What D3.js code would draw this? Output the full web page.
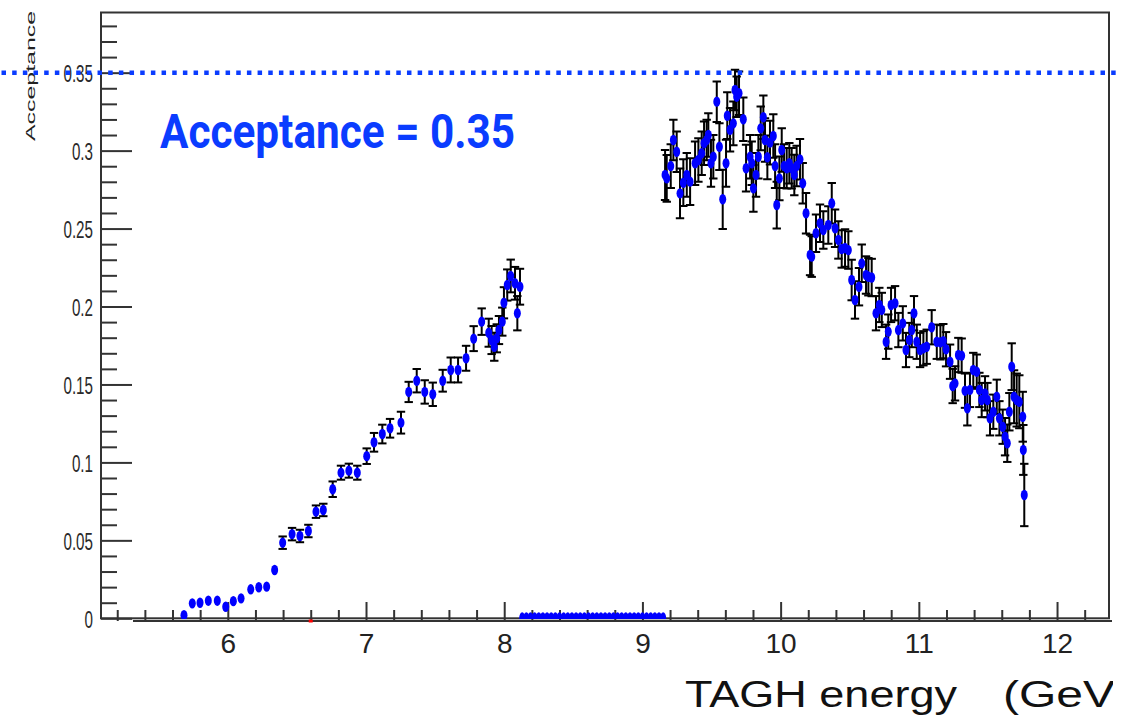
<!DOCTYPE html>
<html><head><meta charset="utf-8">
<script src="https://cdn.jsdelivr.net/npm/d3@7"></script>
<style>html,body{margin:0;padding:0;background:#fff;overflow:hidden}svg{display:block}</style>
</head><body>
<svg id="c" width="1134" height="717"></svg>
<script>
// ---------- data ----------
const xLow = [5.683,5.743,5.799,5.859,5.924,5.985,6.04,6.096,6.166,6.224,6.281,6.339,6.397,6.465,6.522,6.583,6.638,6.691,6.759,6.819,6.876,6.937,7.005,7.058,7.118,7.174,7.253,7.309,7.367,7.425,7.483,7.555,7.613,7.666,7.724,7.779,7.837,7.888,7.909,7.928,7.946,7.962,7.986,7.998,8.022,8.047,8.078,8.095,8.114];
const accLow = [0.002,0.0096,0.010,0.0113,0.0113,0.0074,0.011,0.0128,0.0186,0.0199,0.0203,0.031,0.0485,0.054,0.0528,0.056,0.0684,0.0695,0.0828,0.0934,0.0947,0.0934,0.104,0.1129,0.1182,0.1219,0.1255,0.1452,0.1524,0.1452,0.1437,0.1524,0.1593,0.1593,0.1668,0.1794,0.1903,0.1832,0.1785,0.1742,0.1796,0.1849,0.1903,0.2024,0.2138,0.2196,0.2149,0.1957,0.2127];
const errLow = [0.001,0.0015,0.0015,0.0015,0.0015,0.0015,0.0015,0.0015,0.002,0.002,0.002,0.0025,0.004,0.004,0.004,0.004,0.004,0.004,0.005,0.0045,0.0045,0.0045,0.005,0.006,0.006,0.006,0.007,0.0065,0.0075,0.0075,0.0075,0.007,0.008,0.008,0.008,0.008,0.0085,0.009,0.009,0.009,0.009,0.009,0.009,0.01,0.01,0.0105,0.0105,0.011,0.0115];

const xHigh = [9.164,9.176,9.205,9.224,9.248,9.272,9.296,9.321,9.345,9.381,9.405,9.429,9.446,9.465,9.477,9.496,9.513,9.538,9.557,9.581,9.605,9.614,9.634,9.658,9.670,9.682,9.699,9.730,9.750,9.779,9.791,9.803,9.822,9.839,9.856,9.875,9.887,9.904,9.923,9.947,9.960,9.972,9.991,10.008,10.025,10.044,10.063,10.080,10.099,10.116,10.140,10.160,10.184,10.213,10.225,10.256,10.285,10.309,10.345,10.370,10.394,10.418,
  10.442,10.466,10.490,10.514,10.538,10.567,10.587,10.618,10.635,10.659,10.690,10.714,10.732,10.763,10.779,10.799,10.828,10.852,10.884,10.907,10.931,10.949,10.965,10.985,11.009,11.033,11.057,11.093,11.130,11.156,11.177,11.197,11.226,11.245,11.262,11.286,11.310,11.334,11.351,11.370,11.394,11.419,11.438,11.455,11.479,11.496,11.515,11.539,11.564,11.583,11.607,11.624,11.640,11.655,11.672,11.689,11.708,11.727,11.752,11.756,11.763];
const accHigh = [0.2844,0.2822,0.2901,0.3068,0.2993,0.2726,0.2794,0.2844,0.2801,0.2919,0.2940,0.2983,0.3047,0.3068,0.3100,0.2919,0.2961,0.3314,0.3025,0.2688,0.2919,0.3224,0.3134,0.3175,0.3389,0.3346,0.3368,0.3201,0.2887,0.2961,0.2919,0.2758,0.2844,0.2961,0.3143,0.3214,0.3068,0.2957,0.3051,0.3094,0.2901,0.2651,0.2822,0.3004,0.2901,0.2887,0.2919,0.2887,0.2844,0.2901,0.2944,0.2790,0.2598,0.2331,0.2320,0.2470,0.2534,0.2491,0.2523,0.2662,0.2502,0.2427,
  0.2369,0.2375,0.2362,0.2170,0.2042,0.2127,0.2277,0.2202,0.2191,0.2186,0.1957,0.2010,0.1978,0.1774,0.1839,0.2010,0.2021,0.1849,0.1892,0.1721,0.1785,0.1849,0.1957,0.1774,0.1721,0.1732,0.1742,0.1867,0.1774,0.1770,0.1778,0.1726,0.1646,0.1490,0.1507,0.1689,0.1685,0.1460,0.1347,0.1465,0.1593,0.1582,0.1465,0.1400,0.1443,0.1400,0.1283,0.1325,0.1421,0.1283,0.1229,0.1165,0.1123,0.1325,0.1614,0.1421,0.1400,0.1389,0.1293,0.1080,0.0791];
const errHigh = [0.016,0.015,0.014,0.013,0.013,0.016,0.015,0.014,0.015,0.014,0.014,0.014,0.014,0.013,0.014,0.015,0.014,0.013,0.015,0.019,0.015,0.015,0.014,0.014,0.013,0.013,0.014,0.014,0.015,0.014,0.014,0.015,0.014,0.014,0.014,0.014,0.014,0.014,0.014,0.014,0.014,0.015,0.014,0.014,0.014,0.013,0.013,0.013,0.013,0.013,0.013,0.013,0.013,0.013,0.013,0.012,0.012,0.012,0.012,0.013,0.012,0.012,
  0.012,0.012,0.012,0.013,0.012,0.012,0.012,0.012,0.012,0.012,0.011,0.011,0.011,0.011,0.011,0.011,0.011,0.011,0.011,0.011,0.011,0.011,0.011,0.011,0.011,0.011,0.011,0.011,0.011,0.011,0.011,0.011,0.011,0.011,0.011,0.011,0.011,0.011,0.011,0.011,0.011,0.011,0.011,0.011,0.011,0.011,0.011,0.011,0.011,0.011,0.011,0.012,0.012,0.012,0.015,0.017,0.017,0.017,0.016,0.016,0.02];

const xZero = [8.13,8.16,8.19,8.22,8.25,8.28,8.31,8.34,8.37,8.40,8.43,8.46,8.49,8.52,8.55,8.58,8.61,8.64,8.67,8.70,8.73,8.76,8.79,8.82,8.85,8.88,8.91,8.94,8.97,9.00,9.03,9.06,9.09,9.12,9.15];
const xRed = [6.6];

const xTickValues = [6,7,8,9,10,11,12];
const xTickLabels = ["6","7","8","9","10","11","12"];
const yTickValues = [0,0.05,0.1,0.15,0.2,0.25,0.3,0.35];
const yTickLabels = ["0","0.05","0.1","0.15","0.2","0.25","0.3","0.35"];
const refValue = 0.35;
const refLabel = "Acceptance = 0.35";
const yTitle = "Acceptance";
const xTitleMain = "TAGH energy";
const xTitleUnit = "(GeV)";

// ---------- layout ----------
const svg = d3.select("#c");
const L = 101, R = 1109, T = 12.5, B = 618.3;
const x = d3.scaleLinear().domain([5.0825, 12.376]).range([L, R]);
const y = d3.scaleLinear().domain([0, 0.3886]).range([B, T]);

const blue = "#0000ff", refBlue = "#0a3cff", axisCol = "#333";
const font = "Liberation Sans, Arial, Helvetica, sans-serif";

// frame
svg.append("rect").attr("x", L).attr("y", T).attr("width", R - L).attr("height", B - T)
  .attr("fill", "none").attr("stroke", axisCol).attr("stroke-width", 2);
svg.append("line").attr("x1", 133).attr("x2", 1112).attr("y1", 621).attr("y2", 621)
  .attr("stroke", axisCol).attr("stroke-width", 2);

// y axis ticks
const yMinor = d3.range(1, 39).map(i => i / 100).filter(v => Math.abs(v * 20 - Math.round(v * 20)) > 1e-6);
const gyMinor = svg.append("g").attr("transform", `translate(${L},0)`)
  .call(d3.axisLeft(y).tickValues(yMinor).tickSize(-16).tickFormat(""));
const gyMajor = svg.append("g").attr("transform", `translate(${L},0)`)
  .call(d3.axisLeft(y).tickValues(yTickValues).tickSize(-31).tickPadding(8)
    .tickFormat((d, i) => yTickLabels[i]));
[gyMinor, gyMajor].forEach(g => {
  g.select(".domain").remove();
  g.selectAll(".tick line").attr("stroke", axisCol).attr("stroke-width", 2);
});
gyMajor.attr("font-size", null);
gyMajor.selectAll(".tick text")
  .style("font-family", font).style("font-size", "23px")
  .attr("fill", "#2a2a2a").attr("dy", "0.40em")
  .each(function () {
    const w = this.getComputedTextLength();
    d3.select(this).attr("textLength", w * 0.66).attr("lengthAdjust", "spacingAndGlyphs");
  });

// x axis ticks
const xMinor = d3.range(26, 62).map(i => i / 5).filter(v => Math.abs(v - Math.round(v)) > 1e-6);
const gxMinor = svg.append("g").attr("transform", "translate(0,621)")
  .call(d3.axisBottom(x).tickValues(xMinor).tickSize(-11).tickFormat(""));
const gxMajor = svg.append("g").attr("transform", "translate(0,621)")
  .call(d3.axisBottom(x).tickValues(xTickValues).tickSize(-19).tickPadding(12)
    .tickFormat((d, i) => xTickLabels[i]));
[gxMinor, gxMajor].forEach(g => {
  g.select(".domain").remove();
  g.selectAll(".tick line").attr("stroke", axisCol).attr("stroke-width", 2);
});
gxMajor.selectAll(".tick text")
  .style("font-family", font).style("font-size", "28px").attr("fill", "#222");

// axis titles
svg.append("text")
  .attr("transform", `translate(35,76) rotate(-90)`)
  .attr("text-anchor", "middle").attr("font-family", font)
  .attr("font-size", 12.5).attr("fill", "#222")
  .attr("textLength", 130).attr("lengthAdjust", "spacingAndGlyphs").text(yTitle);

svg.append("clipPath").attr("id", "tclip").append("rect")
  .attr("x", 0).attr("y", 640).attr("width", 1113).attr("height", 80);
const xt = svg.append("g").attr("clip-path", "url(#tclip)")
  .attr("font-family", font).attr("font-size", 37).attr("fill", "#111");
xt.append("text").attr("x", 685).attr("y", 707)
  .attr("textLength", 272).attr("lengthAdjust", "spacingAndGlyphs").text(xTitleMain);
xt.append("text").attr("x", 1003).attr("y", 707)
  .attr("textLength", 128).attr("lengthAdjust", "spacingAndGlyphs").text(xTitleUnit);

// ---------- data marks ----------
svg.append("clipPath").attr("id", "pclip").append("rect")
  .attr("x", L).attr("y", T).attr("width", R - L).attr("height", B - T + 0.7);
const plot = svg.append("g").attr("clip-path", "url(#pclip)");

const pts = xLow.map((v, i) => ({ x: v, y: accLow[i], e: errLow[i] }))
  .concat(xHigh.map((v, i) => ({ x: v, y: accHigh[i], e: errHigh[i] })));

const eb = plot.append("g").attr("stroke", "#000").attr("stroke-width", 2);
pts.forEach(p => {
  const cx = x(p.x), y1 = y(p.y + p.e), y2 = y(p.y - p.e);
  if (y2 - y1 > 9) {
    eb.append("line").attr("x1", cx).attr("x2", cx).attr("y1", y1).attr("y2", y2);
    eb.append("line").attr("x1", cx - 4.2).attr("x2", cx + 4.2).attr("y1", y1).attr("y2", y1);
    eb.append("line").attr("x1", cx - 4.2).attr("x2", cx + 4.2).attr("y1", y2).attr("y2", y2);
  }
});

plot.append("g").selectAll("ellipse").data(pts).join("ellipse")
  .attr("cx", d => x(d.x)).attr("cy", d => y(d.y)).attr("rx", 3.5).attr("ry", 5.2).attr("fill", blue);

plot.append("g").selectAll("ellipse").data(xZero).join("ellipse")
  .attr("cx", d => x(d)).attr("cy", y(0)).attr("rx", 3).attr("ry", 6).attr("fill", blue);

svg.append("g").selectAll("rect").data(xRed).join("rect")
  .attr("x", d => x(d) - 2).attr("y", 619.5).attr("width", 4).attr("height", 3).attr("fill", "#f00");

// ---------- reference line & label ----------
svg.append("line").attr("x1", 1.5).attr("x2", 1116).attr("y1", y(refValue)).attr("y2", y(refValue))
  .attr("stroke", refBlue).attr("stroke-width", 4.5).attr("stroke-dasharray", "4.5,6.17");

svg.append("text").attr("x", 160).attr("y", 148)
  .attr("font-family", "Roboto, Liberation Sans, sans-serif").attr("font-weight", 700)
  .attr("font-size", 48).attr("fill", refBlue)
  .attr("textLength", 355).attr("lengthAdjust", "spacingAndGlyphs").text(refLabel);
</script>
</body></html>
